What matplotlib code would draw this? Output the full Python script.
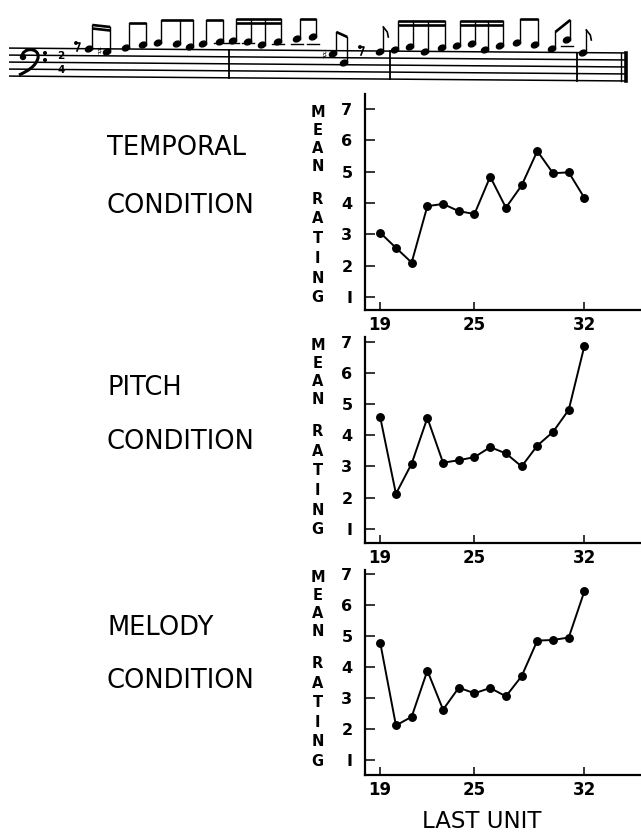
import matplotlib
matplotlib.use("Agg")
import matplotlib.pyplot as plt
from matplotlib.patches import Ellipse, PathPatch
from matplotlib.path import Path

# ---------------- data ----------------
units = list(range(19, 33))
temporal = [3.05, 2.57, 2.10, 3.90, 3.97, 3.74, 3.65, 4.84, 3.85, 4.56, 5.66, 4.95, 4.98, 4.16]
pitch = [4.58, 2.12, 3.09, 4.56, 3.12, 3.20, 3.30, 3.62, 3.42, 3.00, 3.67, 4.11, 4.82, 6.88]
melody = [4.79, 2.12, 2.40, 3.89, 2.63, 3.34, 3.16, 3.33, 3.06, 3.71, 4.86, 4.88, 4.96, 6.46]
condition_names = ["TEMPORAL", "PITCH", "MELODY"]
series = [temporal, pitch, melody]
x_ticks = [19, 25, 32]
y_ticks = [1, 2, 3, 4, 5, 6, 7]
x_label = "LAST UNIT"
y_label_words = ["MEAN", "RATING"]

# ---------------- layout ----------------
W, H = 641, 832
fig = plt.figure(figsize=(W / 100, H / 100), dpi=100)
fig.patch.set_facecolor("white")

over = fig.add_axes([0, 0, 1, 1])
over.set_xlim(0, W)
over.set_ylim(H, 0)
over.axis("off")

# panel pixel extents: (top_px, bottom_px, ymin, ymax)
panel_px = [(94, 310, 0.585, 7.48), (337, 543, 0.54, 7.16), (570, 775, 0.52, 7.14)]
label_y_px = [(148, 206), (388, 442), (628, 681)]
ax_left_px = 365
letter_pos = [6.9, 6.32, 5.74, 5.16, 4.12, 3.49, 2.86, 2.23, 1.6, 0.97]

for i, (top, bot, y0, y1) in enumerate(panel_px):
    ax = fig.add_axes([ax_left_px / W, 1 - bot / H, (W - ax_left_px) / W, (bot - top) / H])
    ax.patch.set_alpha(0)
    ax.plot(units, series[i], color="black", lw=1.4, marker="o", ms=5.4,
            mfc="black", mec="black")
    ax.set_xlim(18.03, 35.6)
    ax.set_ylim(y0, y1)
    ax.spines["top"].set_visible(False)
    ax.spines["right"].set_visible(False)
    for s in ("left", "bottom"):
        ax.spines[s].set_linewidth(1.6)
    ax.set_xticks(x_ticks)
    ax.set_yticks(y_ticks)
    ax.set_yticklabels(["I" if v == 1 else str(v) for v in y_ticks])
    ax.tick_params(axis="y", direction="in", length=7, width=1.1, pad=9,
                   labelsize=11.5)
    ax.tick_params(axis="x", direction="in", length=6, width=1.1, pad=4,
                   labelsize=12)
    for lab in ax.get_xticklabels() + ax.get_yticklabels():
        lab.set_fontweight("bold")
    # stacked y label letters
    letters = list(y_label_words[0]) + list(y_label_words[1])
    for ch, yy in zip(letters, letter_pos):
        ax.text(-0.172, yy, ch, transform=ax.get_yaxis_transform(),
                ha="center", va="center", fontsize=10.5, fontweight="bold")
    # condition labels
    ly1, ly2 = label_y_px[i]
    over.text(107, ly1, condition_names[i], ha="left", va="center", fontsize=18.5)
    over.text(107, ly2, "CONDITION", ha="left", va="center", fontsize=18.5)

over.text(482, 821, x_label, ha="center", va="center", fontsize=16.5)

# ---------------- musical staff (illustration) ----------------
def sy(x, base):
    return base + 5.0 * x / 630.0

staff_x0, staff_x1 = 9, 625
staff_bases = [48, 55, 62, 69, 76]
for b in staff_bases:
    over.plot([staff_x0, staff_x1], [sy(staff_x0, b), sy(staff_x1, b)],
              color="black", lw=1.1, solid_capstyle="butt")

for bx in [229, 390, 577]:
    over.plot([bx, bx], [sy(bx, 48), sy(bx, 76)], color="black", lw=1.3)
over.plot([621, 621], [sy(621, 48), sy(621, 76)], color="black", lw=1.0)
over.plot([625.5, 625.5], [sy(625, 48), sy(625, 76)], color="black", lw=2.6)

# bass clef
clef = Path([(22, 57), (22, 47), (40, 47), (38, 58), (36, 66), (28, 71), (19, 75)],
            [Path.MOVETO, Path.CURVE4, Path.CURVE4, Path.CURVE4,
             Path.CURVE4, Path.CURVE4, Path.CURVE4])
over.add_patch(PathPatch(clef, fill=False, lw=2.2, color="black"))
over.add_patch(Ellipse((23, 57), 5, 5, color="black"))
over.add_patch(Ellipse((45, 53), 2.6, 2.6, color="black"))
over.add_patch(Ellipse((45, 60), 2.6, 2.6, color="black"))
# time signature
over.text(61, 56, "2", ha="center", va="center", fontsize=7.5, fontweight="bold")
over.text(61, 70, "4", ha="center", va="center", fontsize=7.5, fontweight="bold")

# rests
for rx, ry in [(78, 46), (362, 50)]:
    over.plot([rx - 2, rx + 2, rx - 1], [ry - 3, ry - 3, ry + 5], color="black", lw=1.2)
    over.add_patch(Ellipse((rx - 2, ry - 3), 2.5, 2.5, color="black"))

# sharps
for shx, shy in [(99, 52), (324, 56)]:
    over.text(shx, shy, "\u266f", ha="center", va="center", fontsize=8)

# note groups: list of (x, y) heads, beam tops (left,right), number of beams
groups = [
    ([(89, 49), (107, 52)], (25, 27), 2),
    ([(126, 48), (143, 45)], (23, 23), 1),
    ([(158, 43), (177, 44), (190, 47)], (20, 20), 1),
    ([(203, 44), (220, 42)], (20, 20), 1),
    ([(233, 41), (248, 42), (262, 45), (278, 42)], (19, 19), 2),
    ([(297, 39), (313, 37)], (19, 19), 1),
    ([(333, 54), (344, 63)], (32, 37), 1),
    ([(395, 50), (410, 47), (425, 52), (442, 48)], (21, 21), 2),
    ([(457, 46), (472, 44), (485, 50), (500, 46)], (21, 21), 2),
    ([(517, 43), (535, 45)], (19, 19), 1),
    ([(552, 49), (567, 40)], (32, 20), 1),
]
flagged = [((380, 52), 27), ((583, 53), 30)]


def head(x, y):
    over.add_patch(Ellipse((x, y), 7.5, 5.4, angle=-25, color="black"))
    if y <= 42.5:
        over.plot([x - 6, x + 6], [sy(x, 41.5), sy(x, 41.5)], color="black", lw=1.0)


for notes, (bt0, bt1), nb in groups:
    xs = [n[0] + 3.3 for n in notes]
    xa, xb = xs[0], xs[-1]
    for (nx, ny), sx in zip(notes, xs):
        head(nx, ny)
        t = (sx - xa) / (xb - xa) if xb != xa else 0
        top = bt0 + t * (bt1 - bt0)
        over.plot([sx, sx], [ny, top], color="black", lw=1.0)
    for k in range(nb):
        off = k * 3.5
        over.plot([xa, xb], [bt0 + off, bt1 + off], color="black", lw=1.9,
                  solid_capstyle="butt")

for (nx, ny), top in flagged:
    head(nx, ny)
    sx = nx + 3.3
    over.plot([sx, sx], [ny, top], color="black", lw=1.0)
    over.plot([sx, sx + 4, sx + 5], [top, top + 5, top + 10], color="black", lw=1.2)

fig.savefig("out.png", dpi=100, facecolor="white")
